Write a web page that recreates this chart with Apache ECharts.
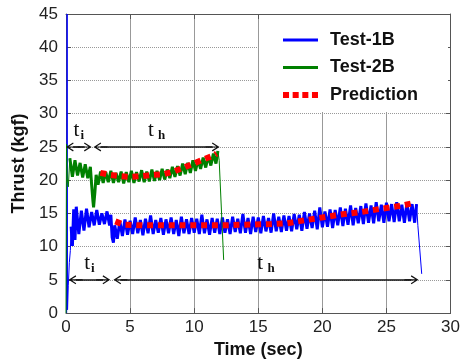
<!DOCTYPE html>
<html>
<head>
<meta charset="utf-8">
<script src="https://cdn.jsdelivr.net/npm/echarts@6/dist/echarts.min.js"></script>
<style>
  html, body { margin: 0; padding: 0; background: #fff; }
  #chart { width: 463px; height: 364px; }
</style>
</head>
<body>
<div id="chart"></div>
<script>
// time (sec), thrust (kgf)
const test1BStart = [[0.05,0],[0.09,45],[0.12,0.5],[0.18,4.2],[0.26,7.6],[0.34,9.4],[0.4,13.0]];
const test1BBand = [
  [0.4,13.0],[0.5,10.1],[0.6,15.6],[0.7,11.0],[0.8,16.0],[1.0,11.9],[1.2,15.4],[1.4,12.4],[1.6,15.7],[1.8,12.9],
  [2.0,15.2],[2.2,13.2],[2.4,15.5],[2.6,13.3],[2.8,15.0],[3.0,13.4],[3.2,15.3],[3.4,13.2],[3.5,14.8],[3.6,11.4],
  [3.7,10.6],[3.8,13.2],[4.0,11.2],[4.2,13.8],[4.4,11.6],[4.6,14.1],[4.8,11.8],[5.0,13.9],[5.2,11.9],[5.4,14.4],
  [5.6,12.0],[5.8,14.0],[6.0,11.7],[6.2,14.2],[6.4,12.0],[6.6,14.7],[6.8,11.9],[7.0,14.0],[7.2,12.1],[7.4,14.3],
  [7.6,11.8],[7.8,14.1],[8.0,12.0],[8.2,14.4],[8.4,11.9],[8.6,14.0],[8.8,11.6],[9.0,14.5],[9.2,12.0],[9.4,14.1],
  [9.6,11.9],[9.8,14.3],[10.0,12.1],[10.2,14.2],[10.4,11.9],[10.6,14.8],[10.8,12.0],[11.0,14.1],[11.2,11.8],[11.4,14.3],
  [11.6,12.1],[11.8,14.2],[12.0,11.9],[12.2,14.4],[12.4,12.1],[12.6,14.1],[12.8,11.9],[13.0,14.5],[13.2,12.2],[13.4,14.2],
  [13.6,12.0],[13.8,14.9],[14.0,12.1],[14.2,14.3],[14.4,11.9],[14.6,14.5],[14.8,12.2],[15.0,14.4],[15.2,12.0],[15.4,14.6],
  [15.6,12.3],[15.8,14.3],[16.0,12.1],[16.2,15.0],[16.4,12.3],[16.6,14.5],[16.8,12.2],[17.0,14.7],[17.2,12.4],[17.4,14.6],
  [17.6,12.3],[17.8,14.9],[18.0,12.6],[18.2,14.8],[18.4,12.4],[18.6,15.2],[18.8,12.7],[19.0,15.0],[19.2,12.8],[19.4,15.4],
  [19.6,12.6],[19.8,15.9],[20.0,12.9],[20.2,15.3],[20.4,13.0],[20.6,15.6],[20.8,12.8],[21.0,15.5],[21.2,13.2],[21.4,15.9],
  [21.6,13.1],[21.8,15.7],[22.0,13.3],[22.2,16.2],[22.4,13.2],[22.6,15.8],[22.8,13.5],[23.0,16.1],[23.2,13.4],[23.4,16.5],
  [23.6,13.6],[23.8,16.2],[24.0,13.5],[24.2,16.7],[24.4,13.8],[24.6,16.3],[24.8,13.6],[25.0,16.6],[25.2,13.8],[25.4,16.4],
  [25.6,13.7],[25.8,16.7],[26.0,13.8],[26.2,16.3],[26.4,13.6],[26.6,16.6],[26.8,13.8],[27.0,16.4],[27.2,13.6],[27.35,16.4]
];
const test1BEnd = [[27.35,16.4],[27.45,13.2],[27.75,5.9]];

const test2BStart = [[0.0,0],[0.04,25.4],[0.1,20.2],[0.18,19.0],[0.3,23.3]];
const test2BBand = [
  [0.3,23.3],[0.5,20.5],[0.7,23.0],[0.9,20.7],[1.1,22.6],[1.3,20.4],[1.5,22.4],[1.7,20.3],[1.9,22.0],[2.0,19.3],
  [2.1,16.9],[2.15,15.9],[2.25,18.1],[2.35,20.8],[2.5,19.3],[2.7,21.3],[2.9,19.6],[3.1,21.2],[3.3,19.7],[3.5,21.4],
  [3.7,19.6],[3.9,21.1],[4.1,19.7],[4.3,21.3],[4.5,19.5],[4.7,21.2],[4.9,19.7],[5.1,21.4],[5.3,19.6],[5.5,21.2],
  [5.7,19.8],[5.9,21.5],[6.1,19.7],[6.3,21.3],[6.5,19.8],[6.7,21.6],[6.9,19.9],[7.1,21.4],[7.3,20.0],[7.5,21.7],
  [7.7,20.1],[7.9,21.6],[8.1,20.3],[8.3,22.0],[8.5,20.5],[8.7,22.1],[8.9,20.7],[9.1,22.5],[9.3,20.9],[9.5,22.6],
  [9.7,21.1],[9.9,23.0],[10.1,21.4],[10.3,23.1],[10.5,21.7],[10.7,23.4],[10.9,21.9],[11.1,23.7],[11.3,22.2],[11.5,24.0],
  [11.7,22.5],[11.85,24.4]
];
const test2BEnd = [[11.85,24.4],[11.95,23.0],[12.3,8.0]];

const prediction1B = [
  [3.85,13.8],[4.5,13.3],[6,13.2],[8,13.2],[10,13.2],[12,13.2],[14,13.3],[16,13.4],[17.2,13.5],
  [18.1,13.8],[19.7,14.3],[21.3,14.8],[23.0,15.2],[24.6,15.7],[26.3,16.2],[27.2,16.6]
];

const prediction2B = [
  [2.68,21.1],[3.46,20.8],[4.24,20.6],[5.0,20.5],[5.9,20.6],[6.8,20.8],[7.6,20.9],[8.4,21.3],
  [9.2,21.9],[9.95,22.5],[10.7,23.1],[11.5,23.7],[11.75,24.0]
];

// t_i / t_h spans: [start, end] in sec, drawn at a thrust level
const spans2B = [[0.55, 1.45], [2.7, 11.43]];
const spans1B = [[0.75, 2.9], [4.25, 26.95]];
const spanLevel2B = 25;
const spanLevel1B = 5;

const xTicks = { min: 0, max: 30, interval: 5 };
const yTicks = { min: 0, max: 45, interval: 5 };

const font = "Liberation Sans";
const arrowHead = "path://M5,0 L10,7 L8.8,7.6 L5,2.2 L1.2,7.6 L0,7 Z M4.4,1 L5.6,1 L5.6,14 L4.4,14 Z";
const solidIcon = "path://M0,0 L35,0 L35,3 L0,3 Z";
const dottedIcon = "path://M0,0h6v6h-6z M9.6,0h6v6h-6z M19.2,0h6v6h-6z M28.8,0h6v6h-6z";

const BLUE = "#0000ff";
const GREEN = "#008000";
const RED = "#ff0000";

function spanLines(spans, level) {
  return spans.map((s, i) => [
    {
      coord: [s[0], level],
      label: { formatter: i === 0 ? "{t|t}{s|i}" : "{t|t}{s| h}" },
    },
    { coord: [s[1], level] },
  ]);
}

function markLineFor(spans, level) {
  return {
    silent: true,
    animation: false,
    symbol: [arrowHead, arrowHead],
    symbolSize: [9, 14],
    lineStyle: { color: "#111", type: "solid", width: 1.5 },
    label: {
      show: true,
      position: "middle",
      distance: 5,
      rich: {
        t: { fontFamily: "Liberation Serif", fontSize: 21, color: "#111" },
        s: { fontFamily: "Liberation Serif", fontWeight: "bold", fontSize: 13, color: "#111", padding: [10, 0, 0, 1] },
      },
    },
    data: spanLines(spans, level),
  };
}

function thin(name, data, color) {
  return { name, type: "line", data, symbol: "none", color, lineStyle: { color, width: 1 }, z: 2 };
}

function band(name, data, color, extra) {
  return Object.assign(
    { name, type: "line", data, symbol: "none", color, lineStyle: { color, width: 3, join: "bevel" }, z: 2 },
    extra
  );
}

function dotted(data) {
  return {
    name: "Prediction",
    type: "line",
    data,
    symbol: "none",
    color: RED,
    lineStyle: { color: RED, width: 6, type: [6, 4.8], cap: "butt" },
    z: 4,
  };
}

const chart = echarts.init(document.getElementById("chart"), null, { renderer: "canvas" });

const axisLine = { show: true, onZero: false, lineStyle: { color: "#555", width: 1 } };
const axisTick = { show: true, inside: true, length: 5, lineStyle: { color: "#555" } };

chart.setOption({
  animation: false,
  backgroundColor: "#fff",
  grid: { left: 66, right: 12, top: 14, bottom: 44 },
  legend: {
    orient: "vertical",
    left: 259,
    top: 15,
    width: 190,
    padding: [16, 30, 8, 24],
    backgroundColor: "#fff",
    itemWidth: 35,
    itemHeight: 20,
    itemGap: 9.5,
    textStyle: { fontFamily: font, fontWeight: "bold", fontSize: 18, color: "#111", padding: [0, 0, 0, 7] },
    data: [
      { name: "Test-1B", icon: solidIcon },
      { name: "Test-2B", icon: solidIcon },
      { name: "Prediction", icon: dottedIcon },
    ],
  },
  xAxis: [
    {
      type: "value",
      position: "bottom",
      ...xTicks,
      name: "Time (sec)",
      nameLocation: "middle",
      nameGap: 25,
      nameTextStyle: { fontFamily: font, fontWeight: "bold", fontSize: 18, color: "#111" },
      axisLine,
      axisTick,
      axisLabel: { fontFamily: font, fontSize: 17, color: "#222", margin: 6 },
      splitLine: { show: true, lineStyle: { color: "#999", width: 1, type: "solid" } },
    },
    {
      type: "value",
      position: "top",
      ...xTicks,
      axisLine,
      axisTick,
      axisLabel: { show: false },
      splitLine: { show: false },
    },
  ],
  yAxis: [
    {
      type: "value",
      position: "left",
      ...yTicks,
      name: "Thrust (kgf)",
      nameLocation: "middle",
      nameGap: 38,
      nameTextStyle: { fontFamily: font, fontWeight: "bold", fontSize: 18, color: "#111" },
      axisLine,
      axisTick,
      axisLabel: { fontFamily: font, fontSize: 17, color: "#222", margin: 8 },
      splitLine: { show: true, lineStyle: { color: "#999", width: 1, type: "dotted" } },
    },
    {
      type: "value",
      position: "right",
      ...yTicks,
      axisLine,
      axisTick,
      axisLabel: { show: false },
      splitLine: { show: false },
    },
  ],
  series: [
    thin("Test-1B", test1BStart, BLUE),
    band("Test-1B", test1BBand, BLUE, { markLine: markLineFor(spans1B, spanLevel1B) }),
    thin("Test-1B", test1BEnd, BLUE),
    thin("Test-2B", test2BStart, GREEN),
    band("Test-2B", test2BBand, GREEN, { markLine: markLineFor(spans2B, spanLevel2B) }),
    thin("Test-2B", test2BEnd, GREEN),
    dotted(prediction1B),
    dotted(prediction2B),
  ],
});
</script>
</body>
</html>
